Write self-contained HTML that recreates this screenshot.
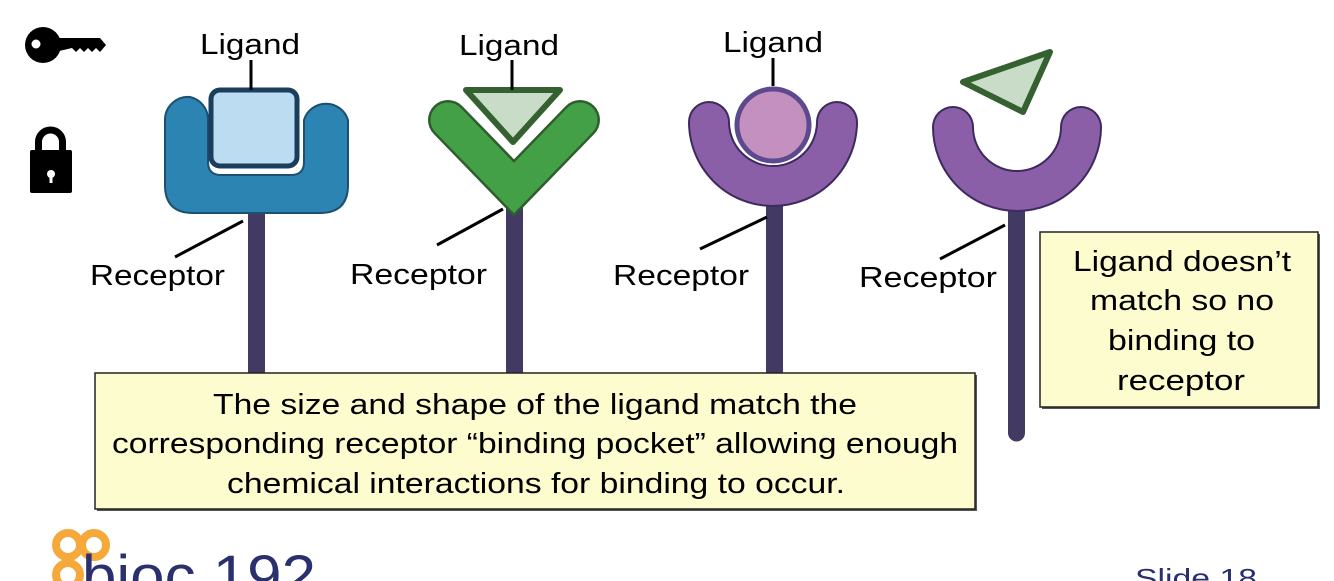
<!DOCTYPE html>
<html><head><meta charset="utf-8"><style>
html,body{margin:0;padding:0;background:#fff;overflow:hidden}
svg{display:block}
text{font-family:"Liberation Sans",sans-serif}
</style></head><body>
<svg width="1334" height="581" viewBox="0 0 1334 581" xmlns="http://www.w3.org/2000/svg">
<!-- key -->
<circle cx="43" cy="45" r="18" fill="#000"/>
<circle cx="36" cy="44" r="4.5" fill="#fff"/>
<path d="M55 38 H100 L106 45 L100 52 L96 48 L92 52 L88 48 L84 52 L80 48 L76 52 L72 48 L55 52 Z" fill="#000"/>
<!-- lock -->
<path d="M38.5 152 V142 A12 12 0 0 1 62.5 142 V152" fill="none" stroke="#000" stroke-width="7"/>
<rect x="30" y="150" width="42" height="43" rx="2" fill="#000"/>
<circle cx="51" cy="174" r="4" fill="#fff"/><rect x="49.5" y="175" width="3" height="8" fill="#fff"/>

<!-- stalks -->
<g fill="#433a63">
<rect x="248" y="205" width="17" height="170"/>
<rect x="506" y="195" width="17" height="180"/>
<rect x="766" y="205" width="17" height="170"/>
<rect x="1008" y="205" width="17" height="228"/>
<circle cx="1016.5" cy="433" r="8.5"/>
</g>

<!-- blue receptor -->
<path d="M190 97 A23 23 0 0 1 208 120 V162 Q208 175 221 175 H291 Q304 175 304 162 V120 A23 23 0 0 1 348 120 V185 Q348 213 320 213 H193 Q165 213 165 185 V120 A23 23 0 0 1 190 97 Z" fill="#2c84b2" stroke="#1c4f70" stroke-width="2"/>
<rect x="211" y="90" width="86" height="76" rx="9" fill="#bcdcf2" stroke="#1a3e5c" stroke-width="5"/>
<line x1="251" y1="60" x2="251" y2="90" stroke="#000" stroke-width="3"/>
<text x="200" y="54" font-size="29" textLength="100" lengthAdjust="spacingAndGlyphs">Ligand</text>

<!-- green receptor -->
<path d="M448 120 L514 188 L580 120" fill="none" stroke="#2e5d2e" stroke-width="40" stroke-linecap="round" stroke-linejoin="miter"/>
<path d="M448 120 L514 188 L580 120" fill="none" stroke="#43a047" stroke-width="35" stroke-linecap="round" stroke-linejoin="miter"/>
<path d="M466 90 L560 90 L513 142 Z" fill="#c8dcc8" stroke="#356030" stroke-width="6" stroke-linejoin="round"/>
<line x1="512" y1="60" x2="512" y2="90" stroke="#000" stroke-width="3"/>
<text x="459" y="55" font-size="29" textLength="100" lengthAdjust="spacingAndGlyphs">Ligand</text>

<!-- purple 1 -->
<path d="M709 122 A64 64 0 0 0 837 122" fill="none" stroke="#3d2a5e" stroke-width="42" stroke-linecap="round"/>
<path d="M709 122 A64 64 0 0 0 837 122" fill="none" stroke="#8a5fa8" stroke-width="38" stroke-linecap="round"/>
<circle cx="773" cy="125" r="40" fill="#fff"/>
<circle cx="773" cy="125" r="36" fill="#c490c0" stroke="#5d4a8e" stroke-width="5"/>
<line x1="773" y1="58" x2="773" y2="86" stroke="#000" stroke-width="3"/>
<text x="723" y="52" font-size="29" textLength="100" lengthAdjust="spacingAndGlyphs">Ligand</text>

<!-- purple 2 -->
<path d="M953 127 A64 64 0 0 0 1081 127" fill="none" stroke="#3d2a5e" stroke-width="42" stroke-linecap="round"/>
<path d="M953 127 A64 64 0 0 0 1081 127" fill="none" stroke="#8a5fa8" stroke-width="38" stroke-linecap="round"/>
<path d="M963 82 L1050 52 L1023 112 Z" fill="#c8dcc8" stroke="#356030" stroke-width="6" stroke-linejoin="round"/>

<!-- receptor labels -->
<g stroke="#000" stroke-width="3">
<line x1="175" y1="257" x2="243" y2="221"/>
<line x1="437" y1="245" x2="503" y2="209"/>
<line x1="700" y1="249" x2="767" y2="217"/>
<line x1="940" y1="259" x2="1005" y2="225"/>
</g>
<g font-size="29">
<text x="90" y="285" textLength="135" lengthAdjust="spacingAndGlyphs">Receptor</text>
<text x="350" y="284" textLength="137" lengthAdjust="spacingAndGlyphs">Receptor</text>
<text x="613" y="285" textLength="136" lengthAdjust="spacingAndGlyphs">Receptor</text>
<text x="859" y="287" textLength="138" lengthAdjust="spacingAndGlyphs">Receptor</text>
</g>

<!-- main box -->
<rect x="97" y="375" width="880" height="136" fill="#555"/>
<rect x="95" y="373" width="880" height="136" fill="#fdfccf" stroke="#222" stroke-width="1.5"/>
<g font-size="29">
<text x="213" y="414" textLength="644" lengthAdjust="spacingAndGlyphs">The size and shape of the ligand match the</text>
<text x="112" y="453" textLength="846" lengthAdjust="spacingAndGlyphs">corresponding receptor “binding pocket” allowing enough</text>
<text x="227" y="493" textLength="618" lengthAdjust="spacingAndGlyphs">chemical interactions for binding to occur.</text>
</g>

<!-- right box -->
<rect x="1042" y="234" width="278" height="175" fill="#555"/>
<rect x="1040" y="232" width="278" height="175" fill="#fdfccf" stroke="#222" stroke-width="1.5"/>
<g font-size="29">
<text x="1073" y="271" textLength="218" lengthAdjust="spacingAndGlyphs">Ligand doesn’t</text>
<text x="1090" y="310" textLength="184" lengthAdjust="spacingAndGlyphs">match so no</text>
<text x="1108" y="350" textLength="147" lengthAdjust="spacingAndGlyphs">binding to</text>
<text x="1117" y="390" textLength="128" lengthAdjust="spacingAndGlyphs">receptor</text>
</g>

<!-- logo -->
<g fill="none" stroke="#f5a93a" stroke-width="8">
<circle cx="68" cy="545" r="12"/><circle cx="94" cy="545" r="12"/>
<circle cx="68" cy="575" r="12"/>
</g>
<text x="82" y="596" font-size="58" fill="#2a2f6e" textLength="234" lengthAdjust="spacingAndGlyphs">bioc 192</text>
<text x="1135" y="587" font-size="26" fill="#2a2f6e" textLength="122" lengthAdjust="spacingAndGlyphs">Slide 18</text>
</svg>
</body></html>
